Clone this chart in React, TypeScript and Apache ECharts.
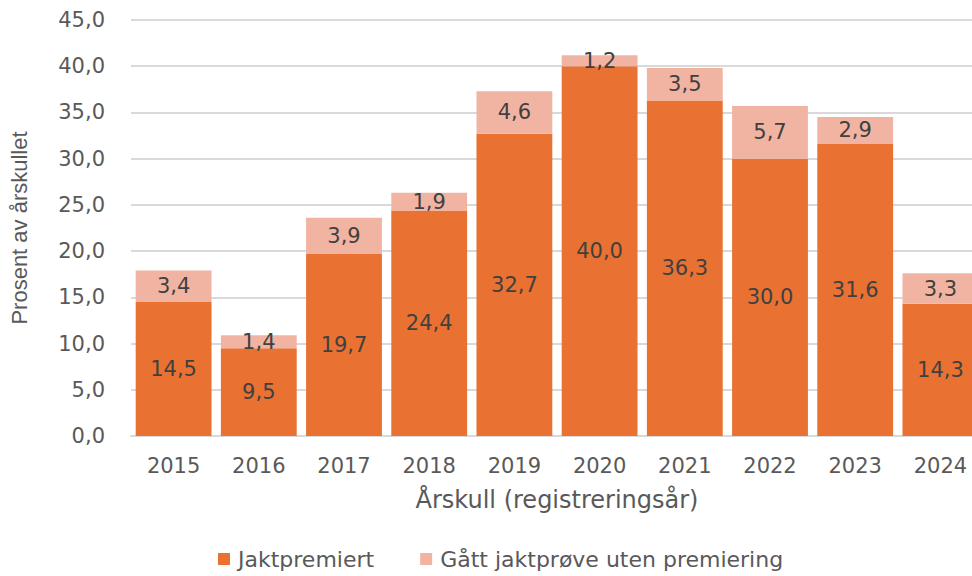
import React, { useEffect, useRef } from "react";
import * as echarts from "echarts";

const categories = ["2015", "2016", "2017", "2018", "2019", "2020", "2021", "2022", "2023", "2024"];
const jaktpremiert = [14.5, 9.5, 19.7, 24.4, 32.7, 40.0, 36.3, 30.0, 31.6, 14.3];
const utenPremiering = [3.4, 1.4, 3.9, 1.9, 4.6, 1.2, 3.5, 5.7, 2.9, 3.3];
const seriesNames = ["Jaktpremiert", "Gått jaktprøve uten premiering"];

const FONT = "'DejaVu Sans', 'Open Sans', sans-serif";
const fmt = (v: number) => v.toFixed(1).replace(".", ",");

export default function App() {
  const ref = useRef<HTMLDivElement>(null);
  useEffect(() => {
    if (!ref.current) return;
    const chart = echarts.init(ref.current, undefined, { renderer: "svg" });
    const labelStyle = {
      show: true,
      position: "inside" as const,
      color: "#404040",
      fontSize: 21,
      fontFamily: FONT,
      formatter: (p: any) => fmt(p.value),
    };
    chart.setOption({
      animation: false,
      grid: { left: 124, top: 20, width: 859, height: 416, containLabel: false },
      legend: {
        bottom: 1,
        left: 213,
        itemWidth: 12,
        itemHeight: 12,
        itemGap: 46,
        icon: "rect",
        textStyle: { color: "#595959", fontSize: 22, fontFamily: FONT, padding: [0, 0, 0, 3] },
        data: seriesNames,
      },
      xAxis: {
        type: "category",
        data: categories,
        name: "Årskull (registreringsår)",
        nameLocation: "middle",
        nameGap: 52,
        nameTextStyle: { color: "#595959", fontSize: 24, fontFamily: FONT },
        axisLine: { lineStyle: { color: "#d9d9d9", width: 2 } },
        axisTick: { show: false },
        axisLabel: { color: "#595959", fontSize: 21, fontFamily: FONT, margin: 19 },
      },
      yAxis: {
        type: "value",
        min: 0,
        max: 45,
        interval: 5,
        name: "Prosent av årskullet",
        nameLocation: "middle",
        nameGap: 101,
        nameRotate: 90,
        nameTextStyle: { color: "#595959", fontSize: 22, fontFamily: "'Liberation Sans', Arial, sans-serif" },
        axisLine: { show: false },
        axisTick: { show: false },
        splitLine: { lineStyle: { color: "#d9d9d9", width: 2 } },
        axisLabel: {
          color: "#595959",
          fontSize: 21,
          fontFamily: FONT,
          margin: 26,
          formatter: (v: number) => fmt(v),
        },
      },
      series: [
        {
          name: seriesNames[0],
          type: "bar",
          stack: "total",
          data: jaktpremiert,
          barCategoryGap: "11%",
          itemStyle: { color: "#E97132" },
          label: labelStyle,
        },
        {
          name: seriesNames[1],
          type: "bar",
          stack: "total",
          data: utenPremiering,
          barCategoryGap: "11%",
          itemStyle: { color: "#F2B4A2" },
          label: labelStyle,
        },
      ],
    });
    return () => chart.dispose();
  }, []);
  return (
    <div style={{ width: 972, height: 576, position: "absolute", left: 0, top: 0, overflow: "hidden" }}>
      <div ref={ref} style={{ width: 1000, height: 576 }} />
    </div>
  );
}
